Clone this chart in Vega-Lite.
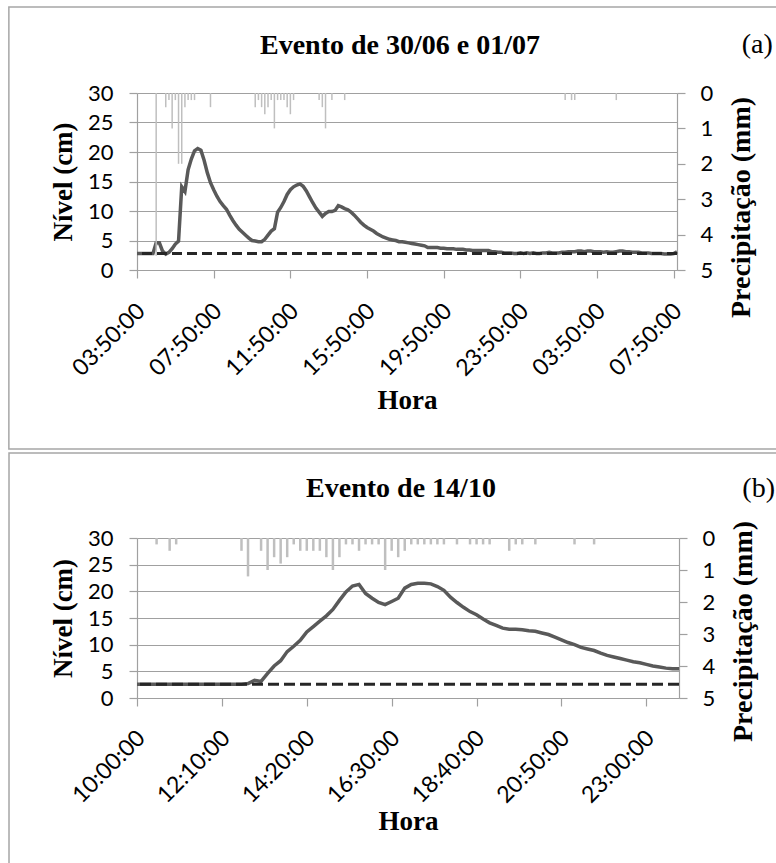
{
  "$schema": "https://vega.github.io/schema/vega-lite/v6.json",
  "background": "white",
  "padding": {"left": 8, "top": 6, "right": 0, "bottom": 0},
  "spacing": 2,
  "datasets": {
    "a": [
      {"t":"2012-06-30T03:50","n":2.8},{"t":"2012-06-30T04:00","n":2.8},{"t":"2012-06-30T04:10","n":2.8},{"t":"2012-06-30T04:20","n":2.8},{"t":"2012-06-30T04:30","n":2.8},{"t":"2012-06-30T04:40","n":2.8},
      {"t":"2012-06-30T04:50","n":4.6,"p":4.6},{"t":"2012-06-30T05:00","n":4.6},{"t":"2012-06-30T05:10","n":3.2},{"t":"2012-06-30T05:20","n":2.7,"p":0.4},{"t":"2012-06-30T05:30","n":3.0,"p":0.2},{"t":"2012-06-30T05:40","n":3.6,"p":1.0},
      {"t":"2012-06-30T05:50","n":4.4,"p":0.2},{"t":"2012-06-30T06:00","n":4.9,"p":2.0},{"t":"2012-06-30T06:10","n":14.1,"p":2.0},{"t":"2012-06-30T06:20","n":13.3,"p":0.4},{"t":"2012-06-30T06:30","n":17.0,"p":0.2},{"t":"2012-06-30T06:40","n":18.8,"p":0.2},
      {"t":"2012-06-30T06:50","n":20.2,"p":0.2},{"t":"2012-06-30T07:00","n":20.6},{"t":"2012-06-30T07:10","n":20.3},{"t":"2012-06-30T07:20","n":18.6},{"t":"2012-06-30T07:30","n":16.5},{"t":"2012-06-30T07:40","n":14.8,"p":0.4},
      {"t":"2012-06-30T07:50","n":13.6},{"t":"2012-06-30T08:00","n":12.5},{"t":"2012-06-30T08:10","n":11.6},{"t":"2012-06-30T08:20","n":10.9},{"t":"2012-06-30T08:30","n":10.3},{"t":"2012-06-30T08:40","n":9.3},
      {"t":"2012-06-30T08:50","n":8.4},{"t":"2012-06-30T09:00","n":7.6},{"t":"2012-06-30T09:10","n":6.9},{"t":"2012-06-30T09:20","n":6.4},{"t":"2012-06-30T09:30","n":5.9},{"t":"2012-06-30T09:40","n":5.4},
      {"t":"2012-06-30T09:50","n":5.0},{"t":"2012-06-30T10:00","n":4.9,"p":0.4},{"t":"2012-06-30T10:10","n":4.8,"p":0.2},{"t":"2012-06-30T10:20","n":4.8,"p":0.4},{"t":"2012-06-30T10:30","n":5.2,"p":0.6},{"t":"2012-06-30T10:40","n":5.9,"p":0.4},
      {"t":"2012-06-30T10:50","n":6.6,"p":0.2},{"t":"2012-06-30T11:00","n":7.0,"p":1.0},{"t":"2012-06-30T11:10","n":9.8,"p":0.2},{"t":"2012-06-30T11:20","n":10.6,"p":0.2},{"t":"2012-06-30T11:30","n":11.6,"p":0.2},{"t":"2012-06-30T11:40","n":12.8,"p":0.4},
      {"t":"2012-06-30T11:50","n":13.6,"p":0.6},{"t":"2012-06-30T12:00","n":14.1,"p":0.2},{"t":"2012-06-30T12:10","n":14.4},{"t":"2012-06-30T12:20","n":14.6},{"t":"2012-06-30T12:30","n":14.2},{"t":"2012-06-30T12:40","n":13.4},
      {"t":"2012-06-30T12:50","n":12.4},{"t":"2012-06-30T13:00","n":11.4},{"t":"2012-06-30T13:10","n":10.5},{"t":"2012-06-30T13:20","n":9.8,"p":0.2},{"t":"2012-06-30T13:30","n":9.1,"p":0.4},{"t":"2012-06-30T13:40","n":9.6,"p":1.0},
      {"t":"2012-06-30T13:50","n":9.9},{"t":"2012-06-30T14:00","n":9.9,"p":0.2},{"t":"2012-06-30T14:10","n":10.1},{"t":"2012-06-30T14:20","n":10.9},{"t":"2012-06-30T14:30","n":10.7},{"t":"2012-06-30T14:40","n":10.4,"p":0.2},
      {"t":"2012-06-30T14:50","n":10.2},{"t":"2012-06-30T15:00","n":9.8},{"t":"2012-06-30T15:10","n":9.3},{"t":"2012-06-30T15:20","n":8.7},{"t":"2012-06-30T15:30","n":8.1},{"t":"2012-06-30T15:40","n":7.6},
      {"t":"2012-06-30T15:50","n":7.2},{"t":"2012-06-30T16:00","n":6.9},{"t":"2012-06-30T16:10","n":6.6},{"t":"2012-06-30T16:20","n":6.2},{"t":"2012-06-30T16:30","n":5.9},{"t":"2012-06-30T16:40","n":5.6},
      {"t":"2012-06-30T16:50","n":5.4},{"t":"2012-06-30T17:00","n":5.2},{"t":"2012-06-30T17:10","n":5.1},{"t":"2012-06-30T17:20","n":5.0},{"t":"2012-06-30T17:30","n":4.8},{"t":"2012-06-30T17:40","n":4.8},
      {"t":"2012-06-30T17:50","n":4.7},{"t":"2012-06-30T18:00","n":4.6},{"t":"2012-06-30T18:10","n":4.5},{"t":"2012-06-30T18:20","n":4.4},{"t":"2012-06-30T18:30","n":4.3},{"t":"2012-06-30T18:40","n":4.2},
      {"t":"2012-06-30T18:50","n":4.1},{"t":"2012-06-30T19:00","n":3.8},{"t":"2012-06-30T19:10","n":3.8},{"t":"2012-06-30T19:20","n":3.8},{"t":"2012-06-30T19:30","n":3.8},{"t":"2012-06-30T19:40","n":3.7},
      {"t":"2012-06-30T19:50","n":3.7},{"t":"2012-06-30T20:00","n":3.6},{"t":"2012-06-30T20:10","n":3.6},{"t":"2012-06-30T20:20","n":3.6},{"t":"2012-06-30T20:30","n":3.5},{"t":"2012-06-30T20:40","n":3.5},
      {"t":"2012-06-30T20:50","n":3.5},{"t":"2012-06-30T21:00","n":3.4},{"t":"2012-06-30T21:10","n":3.4},{"t":"2012-06-30T21:20","n":3.3},{"t":"2012-06-30T21:30","n":3.3},{"t":"2012-06-30T21:40","n":3.3},
      {"t":"2012-06-30T21:50","n":3.3},{"t":"2012-06-30T22:00","n":3.3},{"t":"2012-06-30T22:10","n":3.3},{"t":"2012-06-30T22:20","n":3.1},{"t":"2012-06-30T22:30","n":3.1},{"t":"2012-06-30T22:40","n":3.0},
      {"t":"2012-06-30T22:50","n":3.0},{"t":"2012-06-30T23:00","n":2.9},{"t":"2012-06-30T23:10","n":2.9},{"t":"2012-06-30T23:20","n":2.9},{"t":"2012-06-30T23:30","n":2.8},{"t":"2012-06-30T23:40","n":2.8},
      {"t":"2012-06-30T23:50","n":2.9},{"t":"2012-07-01T00:00","n":2.8},{"t":"2012-07-01T00:10","n":2.9},{"t":"2012-07-01T00:20","n":2.8},{"t":"2012-07-01T00:30","n":2.9},{"t":"2012-07-01T00:40","n":2.8},
      {"t":"2012-07-01T00:50","n":2.8},{"t":"2012-07-01T01:00","n":2.9},{"t":"2012-07-01T01:10","n":2.9},{"t":"2012-07-01T01:20","n":3.0},{"t":"2012-07-01T01:30","n":2.9},{"t":"2012-07-01T01:40","n":2.9},
      {"t":"2012-07-01T01:50","n":2.9},{"t":"2012-07-01T02:00","n":3.0},{"t":"2012-07-01T02:10","n":3.0,"p":0.2},{"t":"2012-07-01T02:20","n":3.1},{"t":"2012-07-01T02:30","n":3.1,"p":0.2},{"t":"2012-07-01T02:40","n":3.1,"p":0.2},
      {"t":"2012-07-01T02:50","n":3.2},{"t":"2012-07-01T03:00","n":3.2},{"t":"2012-07-01T03:10","n":3.1},{"t":"2012-07-01T03:20","n":3.2},{"t":"2012-07-01T03:30","n":3.2},{"t":"2012-07-01T03:40","n":3.1},
      {"t":"2012-07-01T03:50","n":3.1},{"t":"2012-07-01T04:00","n":3.1},{"t":"2012-07-01T04:10","n":3.0},{"t":"2012-07-01T04:20","n":3.1},{"t":"2012-07-01T04:30","n":3.0},{"t":"2012-07-01T04:40","n":3.0},
      {"t":"2012-07-01T04:50","n":3.1,"p":0.2},{"t":"2012-07-01T05:00","n":3.2},{"t":"2012-07-01T05:10","n":3.2},{"t":"2012-07-01T05:20","n":3.1},{"t":"2012-07-01T05:30","n":3.1},{"t":"2012-07-01T05:40","n":3.0},
      {"t":"2012-07-01T05:50","n":3.0},{"t":"2012-07-01T06:00","n":3.0},{"t":"2012-07-01T06:10","n":2.9},{"t":"2012-07-01T06:20","n":2.9},{"t":"2012-07-01T06:30","n":2.9},{"t":"2012-07-01T06:40","n":2.8},
      {"t":"2012-07-01T06:50","n":2.8},{"t":"2012-07-01T07:00","n":2.8},{"t":"2012-07-01T07:10","n":2.8},{"t":"2012-07-01T07:20","n":2.7},{"t":"2012-07-01T07:30","n":2.7},{"t":"2012-07-01T07:40","n":2.7},
      {"t":"2012-07-01T07:50","n":2.8},{"t":"2012-07-01T08:00","n":3.1}
    ],
    "b": [
      {"t":"2012-10-14T10:00","n":2.6},{"t":"2012-10-14T10:10","n":2.6},{"t":"2012-10-14T10:20","n":2.6},{"t":"2012-10-14T10:30","n":2.6,"p":0.2},{"t":"2012-10-14T10:40","n":2.6},{"t":"2012-10-14T10:50","n":2.6,"p":0.4},
      {"t":"2012-10-14T11:00","n":2.6,"p":0.2},{"t":"2012-10-14T11:10","n":2.6},{"t":"2012-10-14T11:20","n":2.6},{"t":"2012-10-14T11:30","n":2.6},{"t":"2012-10-14T11:40","n":2.6},{"t":"2012-10-14T11:50","n":2.6},
      {"t":"2012-10-14T12:00","n":2.6},{"t":"2012-10-14T12:10","n":2.6},{"t":"2012-10-14T12:20","n":2.6},{"t":"2012-10-14T12:30","n":2.6},{"t":"2012-10-14T12:40","n":2.6,"p":0.4},{"t":"2012-10-14T12:50","n":2.7,"p":1.2},
      {"t":"2012-10-14T13:00","n":3.3},{"t":"2012-10-14T13:10","n":3.1,"p":0.4},{"t":"2012-10-14T13:20","n":4.6,"p":1.0},{"t":"2012-10-14T13:30","n":6.0,"p":0.6},{"t":"2012-10-14T13:40","n":7.0,"p":0.8},{"t":"2012-10-14T13:50","n":8.7,"p":0.6},
      {"t":"2012-10-14T14:00","n":9.7,"p":0.2},{"t":"2012-10-14T14:10","n":10.8,"p":0.4},{"t":"2012-10-14T14:20","n":12.4,"p":0.4},{"t":"2012-10-14T14:30","n":13.4,"p":0.4},{"t":"2012-10-14T14:40","n":14.4,"p":0.4},{"t":"2012-10-14T14:50","n":15.4,"p":0.6},
      {"t":"2012-10-14T15:00","n":16.6,"p":1.0},{"t":"2012-10-14T15:10","n":18.3,"p":0.6},{"t":"2012-10-14T15:20","n":19.9,"p":0.2},{"t":"2012-10-14T15:30","n":21.0,"p":0.2},{"t":"2012-10-14T15:40","n":21.3,"p":0.4},{"t":"2012-10-14T15:50","n":19.6,"p":0.2},
      {"t":"2012-10-14T16:00","n":18.7,"p":0.2},{"t":"2012-10-14T16:10","n":17.9,"p":0.2},{"t":"2012-10-14T16:20","n":17.5,"p":1.0},{"t":"2012-10-14T16:30","n":18.1,"p":0.4},{"t":"2012-10-14T16:40","n":18.7,"p":0.6},{"t":"2012-10-14T16:50","n":20.6,"p":0.4},
      {"t":"2012-10-14T17:00","n":21.3,"p":0.2},{"t":"2012-10-14T17:10","n":21.5,"p":0.2},{"t":"2012-10-14T17:20","n":21.5,"p":0.2},{"t":"2012-10-14T17:30","n":21.4,"p":0.2},{"t":"2012-10-14T17:40","n":20.9,"p":0.2},{"t":"2012-10-14T17:50","n":20.2,"p":0.2},
      {"t":"2012-10-14T18:00","n":18.9},{"t":"2012-10-14T18:10","n":17.9,"p":0.2},{"t":"2012-10-14T18:20","n":17.0},{"t":"2012-10-14T18:30","n":16.2,"p":0.2},{"t":"2012-10-14T18:40","n":15.6,"p":0.2},{"t":"2012-10-14T18:50","n":14.8,"p":0.2},
      {"t":"2012-10-14T19:00","n":14.1,"p":0.2},{"t":"2012-10-14T19:10","n":13.6},{"t":"2012-10-14T19:20","n":13.1},{"t":"2012-10-14T19:30","n":12.9,"p":0.4},{"t":"2012-10-14T19:40","n":12.9,"p":0.2},{"t":"2012-10-14T19:50","n":12.8,"p":0.2},
      {"t":"2012-10-14T20:00","n":12.6},{"t":"2012-10-14T20:10","n":12.5,"p":0.2},{"t":"2012-10-14T20:20","n":12.2},{"t":"2012-10-14T20:30","n":11.9},{"t":"2012-10-14T20:40","n":11.4},{"t":"2012-10-14T20:50","n":10.9},
      {"t":"2012-10-14T21:00","n":10.4},{"t":"2012-10-14T21:10","n":10.0,"p":0.2},{"t":"2012-10-14T21:20","n":9.5},{"t":"2012-10-14T21:30","n":9.2},{"t":"2012-10-14T21:40","n":8.9,"p":0.2},{"t":"2012-10-14T21:50","n":8.4},
      {"t":"2012-10-14T22:00","n":8.0},{"t":"2012-10-14T22:10","n":7.7},{"t":"2012-10-14T22:20","n":7.4},{"t":"2012-10-14T22:30","n":7.1},{"t":"2012-10-14T22:40","n":6.8},{"t":"2012-10-14T22:50","n":6.6},
      {"t":"2012-10-14T23:00","n":6.3},{"t":"2012-10-14T23:10","n":6.0},{"t":"2012-10-14T23:20","n":5.8},{"t":"2012-10-14T23:30","n":5.6},{"t":"2012-10-14T23:40","n":5.5},{"t":"2012-10-14T23:50","n":5.5}
    ]
  },
  "vconcat": [
    {
      "width": 540,
      "height": 177,
      "title": {"text": "Evento de 30/06 e 01/07", "anchor": "middle", "frame": "group", "dx": -7, "dy": 31, "offset": -37, "baseline": "middle", "font": "Liberation Serif", "fontSize": 28, "fontWeight": "bold", "color": "#000000"},
      "layer": [
        {
          "layer": [
            {
              "data": {"values": [{}]},
              "mark": {"type": "rect", "fill": null, "stroke": "#a6a6a6", "strokeWidth": 1.5},
              "encoding": {
                "x": {"datum": {"year": 2012, "month": 6, "date": 29, "hours": 21, "minutes": 9}, "type": "temporal", "scale": {"domain": [{"year": 2012, "month": 6, "date": 30, "hours": 3, "minutes": 50}, {"year": 2012, "month": 7, "date": 1, "hours": 8, "minutes": 0}]}},
                "x2": {"datum": {"year": 2012, "month": 7, "date": 1, "hours": 16, "minutes": 0}},
                "y": {"datum": 44.58, "type": "quantitative", "scale": {"domain": [0, 30]},
                  "axis": {"title": "Nível (cm)", "values": [0, 5, 10, 15, 20, 25, 30], "grid": true, "labelOverlap": false, "labelPadding": 16, "titlePadding": 10, "titleFontSize": 27}},
                "y2": {"datum": -30.34}
              }
            },
            {
              "data": {"name": "a"},
              "mark": {"type": "line", "color": "#595959", "strokeWidth": 3.5},
              "encoding": {
                "x": {"field": "t", "type": "temporal",
                  "scale": {"domain": [{"year": 2012, "month": 6, "date": 30, "hours": 3, "minutes": 50}, {"year": 2012, "month": 7, "date": 1, "hours": 8, "minutes": 0}]},
                  "axis": {"title": "Hora", "format": "%H:%M:%S", "grid": false, "labelAngle": -45, "labelAlign": "right", "labelBaseline": "middle", "labelPadding": 29, "labelOffset": 4, "labelFontSize": 23, "labelOverlap": false, "labelFlush": false, "titlePadding": 7, "titleFontSize": 27,
                    "values": [
                      {"year": 2012, "month": 6, "date": 30, "hours": 3, "minutes": 50},
                      {"year": 2012, "month": 6, "date": 30, "hours": 7, "minutes": 50},
                      {"year": 2012, "month": 6, "date": 30, "hours": 11, "minutes": 50},
                      {"year": 2012, "month": 6, "date": 30, "hours": 15, "minutes": 50},
                      {"year": 2012, "month": 6, "date": 30, "hours": 19, "minutes": 50},
                      {"year": 2012, "month": 6, "date": 30, "hours": 23, "minutes": 50},
                      {"year": 2012, "month": 7, "date": 1, "hours": 3, "minutes": 50},
                      {"year": 2012, "month": 7, "date": 1, "hours": 7, "minutes": 50}
                    ]}},
                "y": {"field": "n", "type": "quantitative", "scale": {"domain": [0, 30]},
                  "axis": {"title": "Nível (cm)", "values": [0, 5, 10, 15, 20, 25, 30], "grid": true, "labelOverlap": false, "labelPadding": 16, "titlePadding": 10, "titleFontSize": 27}}
              }
            },
            {
              "data": {"values": [{}]},
              "mark": {"type": "rule", "color": "#262626", "strokeWidth": 3, "strokeDash": [10, 5]},
              "encoding": {"y": {"datum": 2.8, "type": "quantitative", "scale": {"domain": [0, 30]},
                "axis": {"title": "Nível (cm)", "values": [0, 5, 10, 15, 20, 25, 30], "grid": true, "labelOverlap": false, "labelPadding": 16, "titlePadding": 10, "titleFontSize": 27}}}
            },
            {
              "data": {"values": [{}]},
              "mark": {"type": "text", "align": "right", "baseline": "middle", "font": "Liberation Serif", "fontSize": 28, "color": "#000000"},
              "encoding": {
                "x": {"datum": {"year": 2012, "month": 7, "date": 1, "hours": 13, "minutes": 0}, "type": "temporal"},
                "y": {"datum": 38.1, "type": "quantitative",
                  "axis": {"title": "Nível (cm)", "values": [0, 5, 10, 15, 20, 25, 30], "grid": true, "labelOverlap": false, "labelPadding": 16, "titlePadding": 10, "titleFontSize": 27}},
                "text": {"value": "(a)"}
              }
            }
          ]
        },
        {
          "data": {"name": "a"},
          "transform": [{"filter": "datum.p > 0"}],
          "mark": {"type": "rule", "color": "#bfbfbf", "strokeWidth": 1.5},
          "encoding": {
            "x": {"field": "t", "type": "temporal", "scale": {"domain": [{"year": 2012, "month": 6, "date": 30, "hours": 3, "minutes": 50}, {"year": 2012, "month": 7, "date": 1, "hours": 8, "minutes": 0}]}},
            "y": {"field": "p", "type": "quantitative", "scale": {"domain": [0, 5], "reverse": true},
              "axis": {"orient": "right", "title": "Precipitação (mm)", "values": [0, 1, 2, 3, 4, 5], "grid": false, "labelOverlap": false, "labelPadding": 15, "titleAngle": -90, "titleBaseline": "top", "titleY": 114, "titlePadding": 15, "titleFontSize": 28}},
            "y2": {"datum": 0}
          }
        }
      ],
      "resolve": {"scale": {"y": "independent"}, "axis": {"y": "independent"}}
    },
    {
      "width": 542,
      "height": 160,
      "title": {"text": "Evento de 14/10", "anchor": "middle", "frame": "group", "dx": -7, "dy": 29, "offset": -36, "baseline": "middle", "font": "Liberation Serif", "fontSize": 28, "fontWeight": "bold", "color": "#000000"},
      "layer": [
        {
          "layer": [
            {
              "data": {"values": [{}]},
              "mark": {"type": "rect", "fill": null, "stroke": "#a6a6a6", "strokeWidth": 1.5},
              "encoding": {
                "x": {"datum": {"year": 2012, "month": 10, "date": 14, "hours": 6, "minutes": 44}, "type": "temporal", "scale": {"domain": [{"year": 2012, "month": 10, "date": 14, "hours": 10, "minutes": 0}, {"year": 2012, "month": 10, "date": 14, "hours": 23, "minutes": 50}]}},
                "x2": {"datum": {"year": 2012, "month": 10, "date": 15, "hours": 4, "minutes": 0}},
                "y": {"datum": 45.94, "type": "quantitative", "scale": {"domain": [0, 30]},
                  "axis": {"title": "Nível (cm)", "values": [0, 5, 10, 15, 20, 25, 30], "grid": true, "labelOverlap": false, "labelPadding": 16, "titlePadding": 10, "titleFontSize": 27}},
                "y2": {"datum": -32.4}
              }
            },
            {
              "data": {"name": "b"},
              "mark": {"type": "line", "color": "#595959", "strokeWidth": 3.5},
              "encoding": {
                "x": {"field": "t", "type": "temporal",
                  "scale": {"domain": [{"year": 2012, "month": 10, "date": 14, "hours": 10, "minutes": 0}, {"year": 2012, "month": 10, "date": 14, "hours": 23, "minutes": 50}]},
                  "axis": {"title": "Hora", "format": "%H:%M:%S", "grid": false, "labelAngle": -45, "labelAlign": "right", "labelBaseline": "middle", "labelPadding": 28, "labelOffset": 4, "labelFontSize": 23, "labelOverlap": false, "labelFlush": false, "titlePadding": 1, "titleFontSize": 27,
                    "values": [
                      {"year": 2012, "month": 10, "date": 14, "hours": 10, "minutes": 0},
                      {"year": 2012, "month": 10, "date": 14, "hours": 12, "minutes": 10},
                      {"year": 2012, "month": 10, "date": 14, "hours": 14, "minutes": 20},
                      {"year": 2012, "month": 10, "date": 14, "hours": 16, "minutes": 30},
                      {"year": 2012, "month": 10, "date": 14, "hours": 18, "minutes": 40},
                      {"year": 2012, "month": 10, "date": 14, "hours": 20, "minutes": 50},
                      {"year": 2012, "month": 10, "date": 14, "hours": 23, "minutes": 0}
                    ]}},
                "y": {"field": "n", "type": "quantitative", "scale": {"domain": [0, 30]},
                  "axis": {"title": "Nível (cm)", "values": [0, 5, 10, 15, 20, 25, 30], "grid": true, "labelOverlap": false, "labelPadding": 16, "titlePadding": 10, "titleFontSize": 27}}
              }
            },
            {
              "data": {"values": [{}]},
              "mark": {"type": "rule", "color": "#262626", "strokeWidth": 3, "strokeDash": [11, 5]},
              "encoding": {"y": {"datum": 2.6, "type": "quantitative", "scale": {"domain": [0, 30]},
                "axis": {"title": "Nível (cm)", "values": [0, 5, 10, 15, 20, 25, 30], "grid": true, "labelOverlap": false, "labelPadding": 16, "titlePadding": 10, "titleFontSize": 27}}}
            },
            {
              "data": {"values": [{}]},
              "mark": {"type": "text", "align": "right", "baseline": "middle", "font": "Liberation Serif", "fontSize": 28, "color": "#000000"},
              "encoding": {
                "x": {"datum": {"year": 2012, "month": 10, "date": 15, "hours": 2, "minutes": 17}, "type": "temporal"},
                "y": {"datum": 39.2, "type": "quantitative",
                  "axis": {"title": "Nível (cm)", "values": [0, 5, 10, 15, 20, 25, 30], "grid": true, "labelOverlap": false, "labelPadding": 16, "titlePadding": 10, "titleFontSize": 27}},
                "text": {"value": "(b)"}
              }
            }
          ]
        },
        {
          "data": {"name": "b"},
          "transform": [{"filter": "datum.p > 0"}],
          "mark": {"type": "rule", "color": "#bfbfbf", "strokeWidth": 2.5},
          "encoding": {
            "x": {"field": "t", "type": "temporal", "scale": {"domain": [{"year": 2012, "month": 10, "date": 14, "hours": 10, "minutes": 0}, {"year": 2012, "month": 10, "date": 14, "hours": 23, "minutes": 50}]}},
            "y": {"field": "p", "type": "quantitative", "scale": {"domain": [0, 5], "reverse": true},
              "axis": {"orient": "right", "title": "Precipitação (mm)", "values": [0, 1, 2, 3, 4, 5], "grid": false, "labelOverlap": false, "labelPadding": 15, "titleAngle": -90, "titleBaseline": "top", "titleY": 93, "titlePadding": 15, "titleFontSize": 28}},
            "y2": {"datum": 0}
          }
        }
      ],
      "resolve": {"scale": {"y": "independent"}, "axis": {"y": "independent"}}
    }
  ],
  "config": {
    "view": {"stroke": null},
    "axis": {
      "domainColor": "#a0a0a0", "domainWidth": 1.2,
      "tickColor": "#a0a0a0", "tickWidth": 1.2, "tickSize": 8,
      "gridColor": "#a0a0a0", "gridWidth": 1.2,
      "labelColor": "#000000", "labelFont": "Lato", "labelFontSize": 22,
      "titleColor": "#000000", "titleFont": "Liberation Serif", "titleFontSize": 26, "titleFontWeight": "bold"
    }
  }
}
